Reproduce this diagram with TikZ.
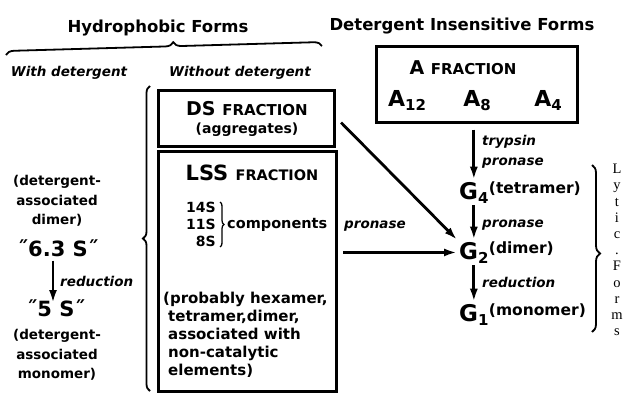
\documentclass[tikz,border=0pt]{standalone}
\usepackage{fontspec}
\setmainfont{DejaVu Sans}
\newfontfamily\serifletters{Liberation Serif}
\usetikzlibrary{arrows.meta,decorations.pathreplacing}

\newcommand{\fsz}[1]{\fontsize{#1}{#1}\selectfont}
\newcommand{\lowsub}[1]{\raisebox{-4pt}{\fsz{15}#1}}

\tikzset{
  heading/.style={font=\bfseries\fsz{16.5}, anchor=base},
  colhead/.style={font=\bfseries\itshape\fsz{13.5}, anchor=base},
  enzyme/.style={font=\bfseries\itshape\fsz{13.5}, anchor=base west, inner sep=0pt},
  fracbox/.style={draw, line width=3pt},
  plain/.style={font=\bfseries\fsz{13.5}, anchor=base, inner sep=0pt},
  gform/.style={font=\bfseries\fsz{23}, anchor=base west, inner sep=2pt},
  gnote/.style={font=\bfseries\fsz{15.5}, anchor=base west, inner sep=0pt},
  lytic/.style={font=\serifletters\fontsize{14.5}{16.2}\selectfont, align=center, inner sep=0pt},
  flow/.style={line width=2.8pt, -{Latex[length=13pt,width=8pt]}},
  curly/.style={decorate, line width=1.8pt},
}

\begin{document}
\begin{tikzpicture}[x=1pt,y=-1pt]
  \useasboundingbox (0,0) rectangle (631,394);

  % headings
  \node[heading] (hydro) at (158,32) {Hydrophobic Forms};
  \node[heading] (insens) at (462,30) {Detergent Insensitive Forms};
  \draw[curly, decoration={brace,amplitude=8pt,aspect=0.53}] (6,55) -- (322,46);
  \node[colhead] (withdet) at (69,76) {With detergent};
  \node[colhead] (nodet) at (240,76) {Without detergent};

  % fraction boxes
  \node[fracbox, minimum width=201, minimum height=76] (afrac) at (476.5,84) {};
  \node[fracbox, minimum width=176, minimum height=56] (ds) at (246.5,118.5) {};
  \node[fracbox, minimum width=178, minimum height=240] (lss) at (247.5,271) {};
  \draw[curly, decoration={brace,amplitude=7pt}] (150,391) -- (150,86);

  % A fraction
  \node[plain, font=\bfseries\fsz{19}] (atitle) at (463,74) {A {\fsz{15}FRACTION}};
  \node[plain, font=\bfseries\fsz{22}] (a12) at (407,106) {A\lowsub{12}};
  \node[plain, font=\bfseries\fsz{22}] (a8) at (477,106) {A\lowsub{8}};
  \node[plain, font=\bfseries\fsz{22}] (a4) at (548,106) {A\lowsub{4}};

  % DS fraction
  \node[plain, font=\bfseries\fsz{19}] (dstitle) at (247,115) {DS {\fsz{15}FRACTION}};
  \node[plain, font=\bfseries\fsz{14}] (dsnote) at (247,133) {(aggregates)};

  % LSS fraction
  \node[plain, font=\bfseries\fsz{21}] (lsstitle) at (252,180) {LSS {\fsz{14.5}FRACTION}};
  \node[font=\bfseries\fontsize{14}{17}\selectfont, align=right, anchor=north east, inner sep=0pt] (sizes) at (216,202) {14S\\11S\\8S};
  \draw[curly, line width=1.3pt, decoration={brace,amplitude=4pt}] ([xshift=4pt]sizes.north east) -- ([xshift=4pt]sizes.south east);
  \node[plain, font=\bfseries\fsz{14.5}, anchor=west] (compword) at ([xshift=11pt]sizes.east) {components};
  \node[font=\bfseries\fontsize{15}{18}\selectfont, align=left, anchor=north west, inner sep=0pt] (lssnote) at (163,292)
    {(probably hexamer,\\\hspace{5pt}tetramer,dimer,\\\hspace{5pt}associated with\\\hspace{5pt}non-catalytic\\\hspace{5pt}elements)};

  % with detergent column
  \node[font=\bfseries\fontsize{13.5}{19.5}\selectfont, align=center, inner sep=0pt] (dimernote) at (57,201) {(detergent-\\associated\\dimer)};
  \node[plain, font=\bfseries\fsz{21}] (s63) at (58,256) {˝6.3 S˝};
  \node[plain, font=\bfseries\fsz{21}] (s5) at (56,316) {˝5 S˝};
  \draw[flow] ([shift={(-5pt,-4pt)}]s63.south) -- ([shift={(-5pt,-4pt)}]s63.south |- s5.north);
  \node[enzyme] (red1) at (60,286) {reduction};
  \node[font=\bfseries\fontsize{13.5}{19.5}\selectfont, align=center, inner sep=0pt] (mononote) at (57,355) {(detergent-\\associated\\monomer)};

  % lytic forms
  \node[gform] (g4) at (457,199) {G\lowsub{4}};
  \node[gnote] (g4n) at ([shift={(-2pt,6pt)}]g4.base east) {(tetramer)};
  \node[gform] (g2) at (457,259) {G\lowsub{2}};
  \node[gnote] (g2n) at ([shift={(-2pt,6pt)}]g2.base east) {(dimer)};
  \node[gform] (g1) at (457,321) {G\lowsub{1}};
  \node[gnote] (g1n) at ([shift={(-2pt,6pt)}]g1.base east) {(monomer)};

  \draw[flow] ([yshift=-6pt]afrac.south -| g4.north) -- (g4.north);
  \draw[flow] (g4.south) -- (g2.north);
  \draw[flow] (g2.south) -- (g1.north);
  \draw[flow] ([shift={(5pt,-4pt)}]ds.east) -- (g2.north west);
  \draw[flow] ([xshift=5pt]lss.east |- g2.west) -- (g2.west);

  \node[enzyme] (tryp) at (482,145) {trypsin};
  \node[enzyme] (pron1) at (482,165) {pronase};
  \node[enzyme] (pron2) at (482,227) {pronase};
  \node[enzyme] (red2) at (482,287) {reduction};
  \node[enzyme] (pron3) at (344,228) {pronase};

  \draw[curly, decoration={brace,amplitude=8pt,aspect=0.53}] (592,165) -- (592,332);
  \node[lytic] (lyticforms) at (617,250) {L\\y\\t\\i\\c\\.\\F\\o\\r\\m\\s};
\end{tikzpicture}
\end{document}
